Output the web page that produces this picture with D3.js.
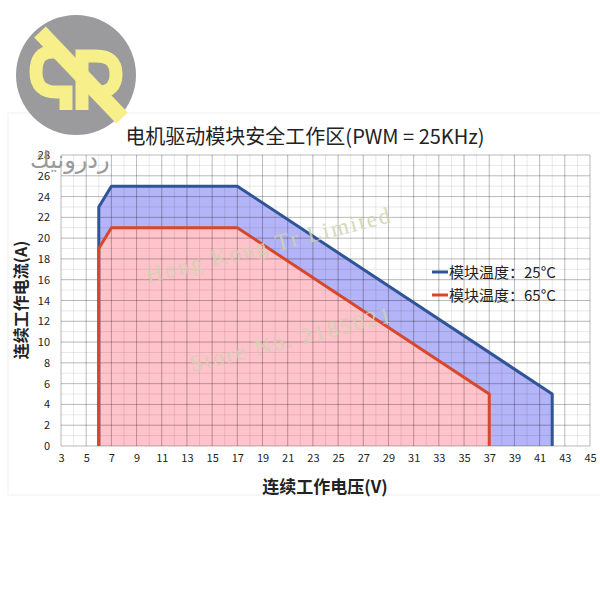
<!DOCTYPE html>
<html lang="en">
<head>
    <meta charset="UTF-8">
    <title>SOA chart</title>
    <script src="https://d3js.org/d3.v7.min.js"></script>
    <style>
        body { margin: 0; background: #fff; }
        text { font-family: "Noto Sans CJK SC", "Noto Sans", sans-serif; }
        .tick text { font-size: 11px; fill: #222; }
        .wm { font-family: "Liberation Serif", serif; }
        .ar { font-family: "DejaVu Sans", sans-serif; }
    </style>
</head>
<body>
<svg id="svg" width="600" height="600"></svg>

<script>
// chart data
let title = "电机驱动模块安全工作区(PWM = 25KHz)";
let xLabel = "连续工作电压(V)";
let yLabel = "连续工作电流(A)";
let xTicks = [3, 5, 7, 9, 11, 13, 15, 17, 19, 21, 23, 25, 27, 29, 31, 33, 35, 37, 39, 41, 43, 45];
let yTicks = [0, 2, 4, 6, 8, 10, 12, 14, 16, 18, 20, 22, 24, 26, 28];
let seriesNames = ["模块温度：25°C", "模块温度：65°C"];
let volt25 = [6, 6, 7, 17, 42, 42];
let amp25 = [0, 23, 25, 25, 5, 0];
let volt65 = [6, 6, 7, 17, 37, 37];
let amp65 = [0, 19, 21, 21, 5, 0];

let svg = d3.select('#svg');

let x = d3.scaleLinear().domain([3, 45]).range([61, 590]);
let y = d3.scaleLinear().domain([0, 28]).range([446, 155]);

// frame around pasted chart
svg.append('rect')
    .attr('x', 8).attr('y', 113).attr('width', 600).attr('height', 382)
    .attr('fill', 'none').attr('stroke', '#efefef');

// logo
let logo = svg.append('g');
logo.append('circle').attr('cx', 76).attr('cy', 75).attr('r', 60).attr('fill', '#9b9b9d');
logo.append('path')
    .attr('d', 'M40,32 L122,118')
    .attr('stroke', '#f7f08a').attr('stroke-width', 16).attr('fill', 'none');
logo.append('path')
    .attr('d', 'M62,52 L52,52 Q36,52 36,72 Q36,92 56,92 L66,92 L66,110')
    .attr('stroke', '#f7f08a').attr('stroke-width', 13).attr('fill', 'none');
logo.append('path')
    .attr('d', 'M82,110 L82,56 L96,56 Q116,56 116,74 Q116,92 98,92')
    .attr('stroke', '#f7f08a').attr('stroke-width', 13).attr('fill', 'none');

// grid
let minorX = d3.range(3, 46, 1);
let minorY = d3.range(0, 29, 1);

function drawArea(vs, as, fill) {
    let pts = vs.map((v, i) => [x(v), y(as[i])]);
    svg.append('path')
        .attr('d', d3.line()(pts) + 'Z')
        .attr('fill', fill);
}
function drawLine(vs, as, color) {
    let pts = vs.map((v, i) => [x(v), y(as[i])]);
    svg.append('path')
        .attr('d', d3.line()(pts))
        .attr('fill', 'none')
        .attr('stroke', color)
        .attr('stroke-width', 3)
        .attr('stroke-linejoin', 'round');
}

drawArea(volt25, amp25, '#b4b4f8');
drawArea(volt65, amp65, '#ffc3cb');

let gridTop = svg.append('g');
gridTop.selectAll('.vminor').data(minorX).enter().append('line')
    .attr('x1', d => x(d)).attr('x2', d => x(d))
    .attr('y1', y(0)).attr('y2', y(28))
    .attr('stroke', 'rgba(0,0,0,0.09)').attr('stroke-width', 1);
gridTop.selectAll('.hminor').data(minorY).enter().append('line')
    .attr('y1', d => y(d)).attr('y2', d => y(d))
    .attr('x1', x(3)).attr('x2', x(45))
    .attr('stroke', 'rgba(0,0,0,0.09)').attr('stroke-width', 1);
gridTop.selectAll('.vmajor').data(xTicks).enter().append('line')
    .attr('x1', d => x(d)).attr('x2', d => x(d))
    .attr('y1', y(0)).attr('y2', y(28))
    .attr('stroke', 'rgba(0,0,0,0.2)').attr('stroke-width', 1);
gridTop.selectAll('.hmajor').data(yTicks).enter().append('line')
    .attr('y1', d => y(d)).attr('y2', d => y(d))
    .attr('x1', x(3)).attr('x2', x(45))
    .attr('stroke', 'rgba(0,0,0,0.2)').attr('stroke-width', 1);

drawLine(volt25, amp25, '#2f5597');
drawLine(volt65, amp65, '#d9472b');

// axes
let xAxis = svg.append('g')
    .attr('transform', 'translate(0,' + (y(0) + 5) + ')')
    .call(d3.axisBottom(x).tickValues(xTicks).tickSize(0).tickFormat(d3.format('d')));
xAxis.select('.domain').remove();

let yAxis = svg.append('g')
    .attr('transform', 'translate(' + (x(3) - 8) + ',0)')
    .call(d3.axisLeft(y).tickValues(yTicks).tickSize(0).tickFormat(d3.format('d')));
yAxis.select('.domain').remove();

// title and axis labels
svg.append('text')
    .attr('x', 305).attr('y', 144)
    .attr('text-anchor', 'middle')
    .attr('font-size', 20).attr('fill', '#222')
    .text(title);

svg.append('text')
    .attr('x', 325).attr('y', 493)
    .attr('text-anchor', 'middle')
    .attr('font-size', 17).attr('font-weight', 'bold').attr('fill', '#222')
    .text(xLabel);

svg.append('text')
    .attr('transform', 'translate(27,300) rotate(-90)')
    .attr('text-anchor', 'middle')
    .attr('font-size', 16).attr('font-weight', 'bold').attr('fill', '#222')
    .text(yLabel);

// legend
let legendColors = ['#2f5597', '#d9472b'];
let legend = svg.selectAll('.legend').data(seriesNames).enter().append('g')
    .attr('transform', (d, i) => 'translate(432,' + (272 + i * 23) + ')');
legend.append('line')
    .attr('x1', 0).attr('x2', 16).attr('y1', 0).attr('y2', 0)
    .attr('stroke', (d, i) => legendColors[i]).attr('stroke-width', 3);
legend.append('text')
    .attr('x', 17).attr('y', 6)
    .attr('font-size', 15).attr('fill', '#222')
    .text(d => d);

// watermarks
svg.append('text')
    .attr('class', 'ar')
    .attr('x', 30).attr('y', 168)
    .attr('font-size', 24).attr('fill', '#9a9a9a')
    .text('ردرونيك');

svg.append('text')
    .attr('class', 'wm')
    .attr('transform', 'translate(148,283) rotate(-14)')
    .attr('font-size', 23).attr('fill', '#cfd3b0').attr('opacity', 0.85)
    .attr('letter-spacing', 2)
    .text('Hong Kong Tr Limited');

svg.append('text')
    .attr('class', 'wm')
    .attr('transform', 'translate(192,372) rotate(-14)')
    .attr('font-size', 23).attr('fill', '#cfd3b0').attr('opacity', 0.85)
    .attr('letter-spacing', 2)
    .text('Store No. 2185021');
</script>
</body>
</html>
